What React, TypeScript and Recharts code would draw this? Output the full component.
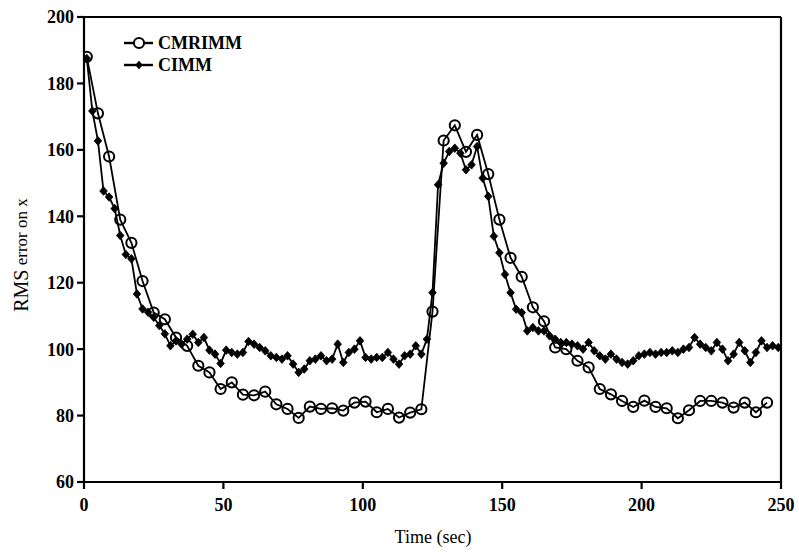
import React from 'react';
import { LineChart, Line, XAxis, YAxis, ReferenceLine } from 'recharts';

const cmrimmTimes = [1, 5, 9, 13, 17, 21, 25, 29, 33, 37, 41, 45, 49, 53, 57, 61, 65, 69, 73, 77, 81, 85, 89, 93, 97, 101, 105, 109, 113, 117, 121, 125, 129, 133, 137, 141, 145, 149, 153, 157, 161, 165, 169, 173, 177, 181, 185, 189, 193, 197, 201, 205, 209, 213, 217, 221, 225, 229, 233, 237, 241, 245];
const cmrimmValues = [188, 171, 158, 139, 132, 120.5, 111, 109, 103.5, 101, 95, 93, 88, 90, 86.3, 86.1, 87.2, 83.4, 82, 79.3, 82.7, 82, 82.2, 81.5, 83.9, 84.2, 81, 82, 79.4, 80.9, 81.9, 111.3, 162.8, 167.4, 159.4, 164.5, 152.7, 139, 127.5, 121.8, 112.6, 108.4, 100.5, 100, 96.5, 94.5, 88, 86.4, 84.4, 82.6, 84.5, 82.6, 82.2, 79.2, 81.6, 84.4, 84.4, 83.9, 82.4, 83.9, 81, 83.9];

const cimmTimes = [1, 3, 5, 7, 9, 11, 13, 15, 17, 19, 21, 23, 25, 27, 29, 31, 33, 35, 37, 39, 41, 43, 45, 47, 49, 51, 53, 55, 57, 59, 61, 63, 65, 67, 69, 71, 73, 75, 77, 79, 81, 83, 85, 87, 89, 91, 93, 95, 97, 99, 101, 103, 105, 107, 109, 111, 113, 115, 117, 119, 121, 123, 125, 127, 129, 131, 133, 135, 137, 139, 141, 143, 145, 147, 149, 151, 153, 155, 157, 159, 161, 163, 165, 167, 169, 171, 173, 175, 177, 179, 181, 183, 185, 187, 189, 191, 193, 195, 197, 199, 201, 203, 205, 207, 209, 211, 213, 215, 217, 219, 221, 223, 225, 227, 229, 231, 233, 235, 237, 239, 241, 243, 245, 247, 249];
const cimmValues = [187.5, 171.7, 162.7, 147.6, 145.8, 142.3, 134.2, 128.5, 127.2, 116.6, 112.1, 111.1, 109.6, 107.1, 104.6, 101, 102.5, 101.5, 103, 104.5, 102, 103.5, 99.7, 98.5, 95.7, 99.7, 99, 98.5, 99, 102.3, 101.5, 100.5, 99.5, 98, 97.5, 97, 98, 95.5, 93, 94, 96.5, 97, 98, 96.5, 97, 101.5, 96, 99, 100, 102.5, 97.5, 97, 97.5, 97.5, 99, 97, 95.5, 98, 98.5, 101, 98.5, 103, 117, 149.5, 156, 159.5, 160.5, 159, 154, 155.5, 161, 151.5, 146, 134, 129, 122.5, 117, 112, 111, 105.5, 106.5, 105.5, 105.5, 104, 103, 102, 102, 101.5, 101, 100, 102, 99.5, 98, 97, 98.5, 97, 96, 95.5, 96.5, 98, 98.5, 99, 98.5, 99, 99, 99.5, 99, 100, 100.5, 103.5, 101.5, 100.5, 99.5, 102, 100, 96.5, 98.5, 102, 99.5, 96, 99, 102.5, 100.5, 101, 100.5];

const xTicks = [0, 50, 100, 150, 200, 250];
const yTicks = [60, 80, 100, 120, 140, 160, 180, 200];
const seriesNames = ['CMRIMM', 'CIMM'];

const cmrimmData = cmrimmTimes.map((t, i) => ({ t, v: cmrimmValues[i] }));
const cimmData = cimmTimes.map((t, i) => ({ t, v: cimmValues[i] }));

const FONT = '"Liberation Serif", "Times New Roman", serif';

const Diamond = (props: any) => {
  const { cx, cy, index } = props;
  if (cx == null || cy == null) return <g key={`d-${index}`} />;
  return (
    <path
      key={`d-${index}`}
      d={`M${cx},${cy - 4.3}L${cx + 3.8},${cy}L${cx},${cy + 4.3}L${cx - 3.8},${cy}Z`}
      fill="#000"
      stroke="#000"
      strokeWidth={0.8}
    />
  );
};

const tickStyle = { fontFamily: FONT, fontSize: 18, fontWeight: 700, fill: '#000' };

export default function App() {
  return (
    <div style={{ position: 'absolute', left: 0, top: 0, width: 799, height: 552, background: '#fff' }}>
      <LineChart width={799} height={552} margin={{ top: 17, right: 18, bottom: 0, left: 0 }}>
        <XAxis
          type="number"
          dataKey="t"
          domain={[0, 250]}
          ticks={xTicks}
          allowDataOverflow
          height={70}
          tickSize={7}
          tickMargin={9}
          stroke="#000"
          strokeWidth={2.2}
          tick={tickStyle}
          label={{
            content: () => (
              <text x={433} y={543} textAnchor="middle" fontFamily={FONT} fontSize={18} fill="#000">
                Time (sec)
              </text>
            ),
          }}
        />
        <YAxis
          type="number"
          domain={[60, 200]}
          ticks={yTicks}
          allowDataOverflow
          width={84}
          tickSize={7}
          tickMargin={3}
          stroke="#000"
          strokeWidth={2.2}
          tick={tickStyle}
          label={{
            content: () => (
              <text
                x={21}
                y={255}
                transform="rotate(-90 21 255)"
                textAnchor="middle"
                dominantBaseline="central"
                fontFamily={FONT}
                fill="#000"
              >
                <tspan fontSize={20}>RMS</tspan>
                <tspan fontSize={17}> error on x</tspan>
              </text>
            ),
          }}
        />
        <ReferenceLine y={200} stroke="#000" strokeWidth={2.2} />
        <ReferenceLine x={250} stroke="#000" strokeWidth={2.2} />
        <Line
          data={cmrimmData}
          dataKey="v"
          name={seriesNames[0]}
          type="linear"
          stroke="#000"
          strokeWidth={1.8}
          dot={{ r: 5.1, stroke: '#000', strokeWidth: 2, fill: 'none' }}
          isAnimationActive={false}
        />
        <Line
          data={cimmData}
          dataKey="v"
          name={seriesNames[1]}
          type="linear"
          stroke="#000"
          strokeWidth={1.8}
          dot={Diamond}
          isAnimationActive={false}
        />
      </LineChart>
      <svg width={200} height={60} style={{ position: 'absolute', left: 120, top: 30 }}>
        <line x1={4} y1={13} x2={33} y2={13} stroke="#000" strokeWidth={2.4} />
        <circle cx={19} cy={13} r={5.1} fill="#fff" stroke="#000" strokeWidth={2} />
        <text x={38} y={13} dy="0.35em" fontFamily={FONT} fontSize={18} fontWeight={700} fill="#000">
          {seriesNames[0]}
        </text>
        <line x1={4} y1={35} x2={33} y2={35} stroke="#000" strokeWidth={2.4} />
        <path d="M19,30.7L22.8,35L19,39.3L15.2,35Z" fill="#000" />
        <text x={38} y={35} dy="0.35em" fontFamily={FONT} fontSize={18} fontWeight={700} fill="#000">
          {seriesNames[1]}
        </text>
      </svg>
    </div>
  );
}
